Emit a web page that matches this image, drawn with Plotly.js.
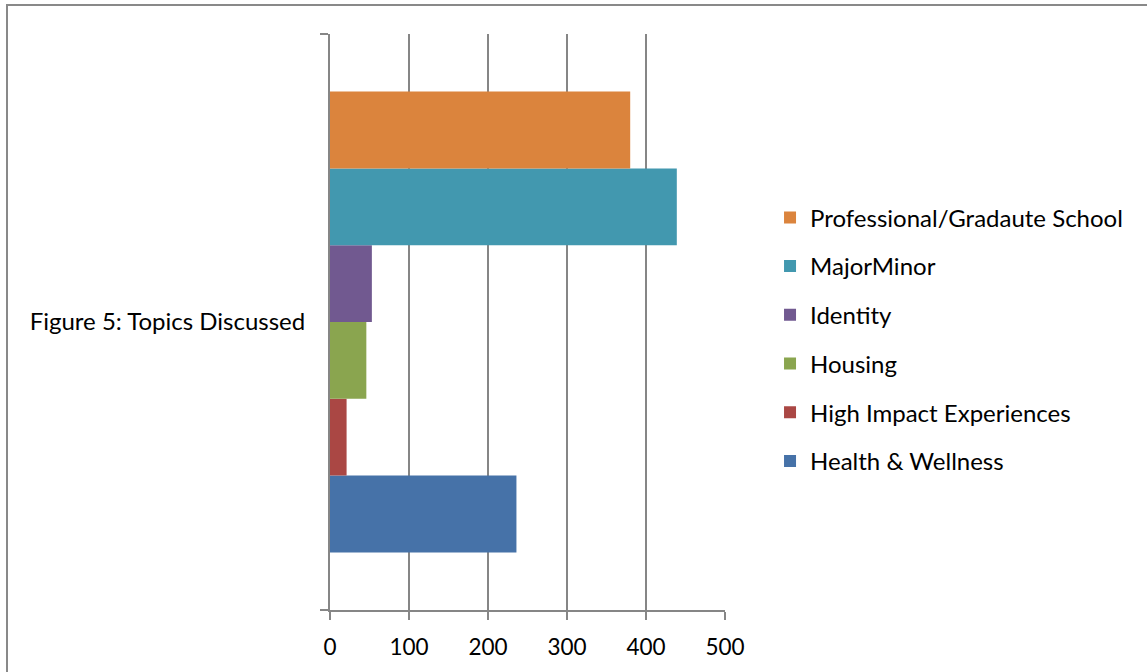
<!DOCTYPE html>
<html>
<head>
<meta charset="utf-8">
<script src="https://cdn.plot.ly/plotly-3.0.1.min.js"></script>
<style>
  html, body { margin: 0; padding: 0; width: 1147px; height: 672px; overflow: hidden; background: #fff; }
  #frame { position: absolute; left: 6px; top: 4px; width: 1300px; height: 800px; border: 2px solid #898989; box-sizing: border-box; }
  #chart { position: absolute; left: 0; top: 0; width: 1147px; height: 672px; }
</style>
</head>
<body>
<div id="frame"></div>
<div id="chart"></div>
<script>
// Data
const categories = ["Figure 5: Topics Discussed"];
const seriesNames = ["Health & Wellness", "High Impact Experiences", "Housing", "Identity", "MajorMinor", "Professional/Gradaute School"];
const seriesValues = [236, 21, 46, 53, 439, 380];
const seriesColors = ["#4672A8", "#AA4744", "#8AA54F", "#715990", "#4298AF", "#DB843D"];
const xTicks = [0, 100, 200, 300, 400, 500];

const FONT = "Lato, 'Open Sans', sans-serif";

const traces = seriesNames.map((name, i) => ({
  type: "bar",
  orientation: "h",
  name: name,
  y: categories,
  x: [seriesValues[i]],
  marker: { color: seriesColors[i], line: { width: 0 } },
  legendgroup: "g" + i,
  legendrank: 1000 - i,
  hoverinfo: "x+name"
}));

const layout = {
  width: 1147,
  height: 672,
  margin: { l: 330, r: 422, t: 34, b: 62 },
  paper_bgcolor: "rgba(0,0,0,0)",
  plot_bgcolor: "rgba(0,0,0,0)",
  barmode: "group",
  bargap: 0.2,
  bargroupgap: 0,
  font: { family: FONT, size: 24, color: "#000" },
  xaxis: {
    range: [0, 500],
    tickvals: xTicks,
    ticktext: xTicks.map(String),
    showgrid: true,
    gridcolor: "#868686",
    gridwidth: 2,
    zeroline: false,
    showline: true,
    linecolor: "#868686",
    linewidth: 2,
    ticks: "outside",
    ticklen: 8,
    tickwidth: 2,
    tickcolor: "#868686",
    tickfont: { family: FONT, size: 22.5, color: "#000" },
    ticklabelstandoff: 8,
    fixedrange: true
  },
  yaxis: {
    type: "category",
    range: [-0.5, 0.5],
    showgrid: false,
    zeroline: false,
    showline: true,
    linecolor: "#868686",
    linewidth: 2,
    ticks: "outside",
    tickson: "boundaries",
    ticklen: 8,
    tickwidth: 2,
    tickcolor: "#868686",
    tickfont: { family: FONT, size: 24, color: "#000" },
    ticklabelstandoff: 18,
    fixedrange: true
  },
  showlegend: true,
  legend: {
    x: 1.114,
    xanchor: "left",
    y: 0.47,
    yanchor: "middle",
    traceorder: "grouped",
    tracegroupgap: 14.5,
    font: { family: FONT, size: 24, color: "#000" },
    bgcolor: "rgba(0,0,0,0)",
    borderwidth: 0
  }
};

Plotly.newPlot("chart", traces, layout, { displayModeBar: false, staticPlot: true });
</script>
</body>
</html>
